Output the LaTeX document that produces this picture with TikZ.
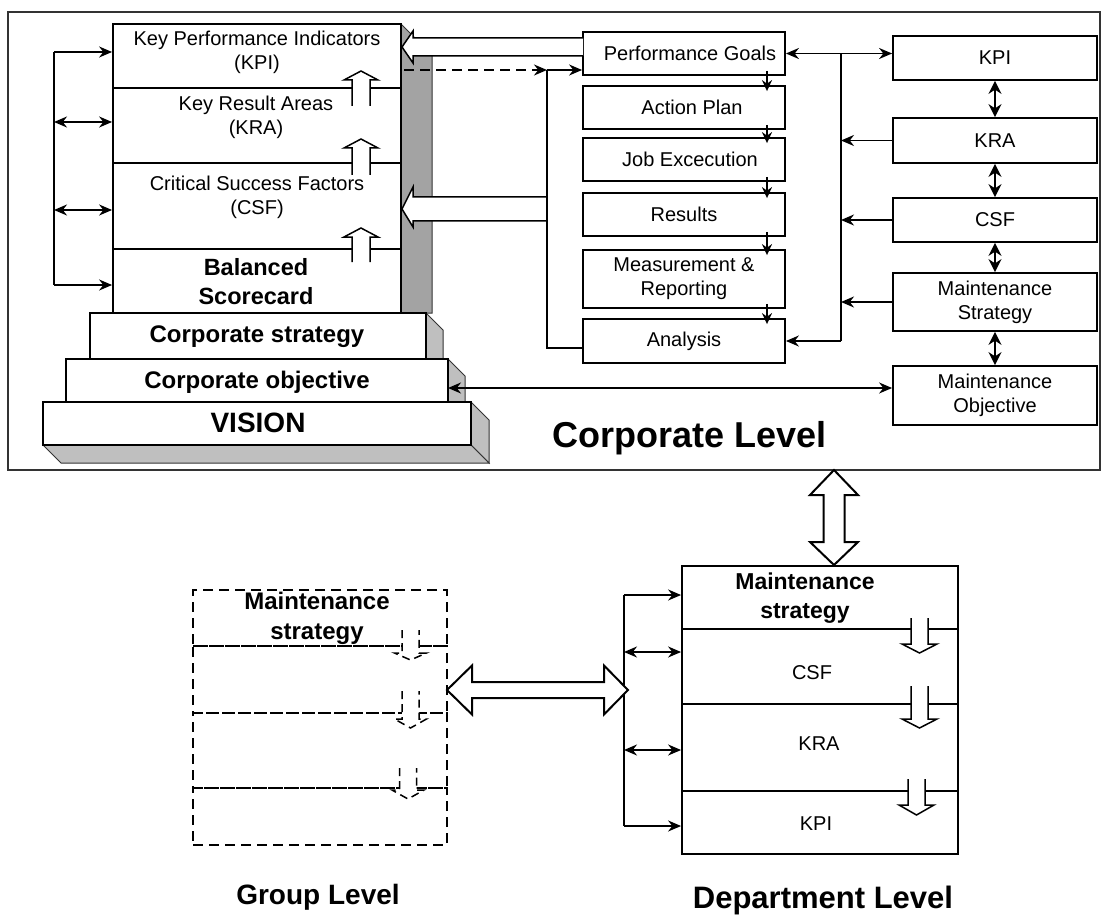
\documentclass[tikz,border=0pt]{standalone}
\usepackage{fontspec}
\setmainfont{Liberation Sans}
\usetikzlibrary{arrows.meta,calc}
\newcommand{\myHollowArrow}[7][]{% #2 xc, #3 shaft half width, #4 head half width, #5 shaft end y, #6 head base y, #7 tip y
  \filldraw[fill=white,line width=1.5pt,#1] ({#2-#3},#5) -- ({#2-#3},#6) -- ({#2-#4},#6) -- (#2,#7) -- ({#2+#4},#6) -- ({#2+#3},#6) -- ({#2+#3},#5);}
\begin{document}
\begin{tikzpicture}[x=1pt,y=-1pt,line width=1.7pt,
  box/.style={draw,line width=1.8pt,inner sep=0pt,fill=white},
  dbox/.style={draw,line width=1.8pt,inner sep=0pt,dash pattern=on 10pt off 6pt},
  txt/.style={inner sep=0pt,align=center,font=\fontsize{20}{24}\selectfont},
  btxt/.style={inner sep=0pt,align=center,font=\bfseries\fontsize{24}{30}\selectfont},
  arr/.style={-{Stealth[length=13pt,width=11pt]}},
  darr/.style={{Stealth[length=13pt,width=11pt]}-{Stealth[length=13pt,width=11pt]}},
  vdarr/.style={{Stealth[length=13pt,width=13pt]}-{Stealth[length=13pt,width=13pt]}},
  sideface/.style={fill=black!36,draw=black!80,line width=1pt},
  stairface/.style={fill=black!25,draw=black!80,line width=1pt}]
\useasboundingbox (0,0) rectangle (1104,915);

% corporate frame
\node[draw=black!80,line width=1.4pt,minimum width=1092pt,minimum height=458pt,inner sep=0pt] (frame) at (554,241) {};

% 3D faces of the pyramid
\filldraw[sideface] (401,24) -- (432,55) -- (432,313) -- (401,313) -- cycle;
\filldraw[stairface] (426,313) -- (443,330) -- (443,359) -- (426,359) -- cycle;
\filldraw[stairface] (448,359) -- (465,376) -- (465,402) -- (448,402) -- cycle;
\filldraw[stairface] (471,402) -- (489,420) -- (489,463) -- (471,445) -- cycle;
\filldraw[stairface] (43,445) -- (471,445) -- (489,463) -- (61,463) -- cycle;

% pyramid boxes
\node[box,minimum width=288pt,minimum height=64pt] (mkpi) at (257,56) {};
\node[box,minimum width=288pt,minimum height=75pt] (mkra) at (257,125.5) {};
\node[box,minimum width=288pt,minimum height=86pt] (mcsf) at (257,206) {};
\node[box,minimum width=288pt,minimum height=64pt] (mbsc) at (257,281) {};
\node[box,minimum width=336pt,minimum height=46pt] (cs) at (258,336) {};
\node[box,minimum width=382pt,minimum height=43pt] (co) at (257,380.5) {};
\node[box,minimum width=428pt,minimum height=43pt] (vi) at (257,423.5) {};

% hollow up arrows in the scorecard
\myHollowArrow{361}{9}{17}{106}{80}{71}
\myHollowArrow{361}{9}{17}{175}{148}{139}
\myHollowArrow{361}{9}{17}{262}{237}{228}

\node[txt] (mkpiT) at (257,52.5) {Key Performance Indicators\\(KPI)};
\node[txt] (mkraT) at (256,117) {Key Result Areas\\(KRA)};
\node[txt] (mcsfT) at (257,197) {Critical Success Factors\\(CSF)};
\node[btxt,font=\bfseries\fontsize{23.5}{29}\selectfont] (mbscT) at (256,282) {Balanced\\Scorecard};
\node[btxt] (csT) at (257,337) {Corporate strategy};
\node[btxt] (coT) at (257,382) {Corporate objective};
\node[btxt,font=\bfseries\fontsize{28}{32}\selectfont] (viT) at (258,423) {VISION};

% process column
\node[box,txt,minimum width=202pt,minimum height=43pt] (pg) at (684,53.5) {\hspace*{12pt}Performance Goals};
\node[box,txt,minimum width=202pt,minimum height=43pt] (ap) at (684,107.5) {\hspace*{16pt}Action Plan};
\node[box,txt,minimum width=202pt,minimum height=43pt] (je) at (684,159.5) {\hspace*{12pt}Job Excecution};
\node[box,txt,minimum width=202pt,minimum height=43pt] (rs) at (684,214.5) {Results};
\node[box,txt,minimum width=202pt,minimum height=58pt] (mr) at (684,279) {Measurement \&\\Reporting};
\node[box,txt,minimum width=202pt,minimum height=44pt] (an) at (684,341) {Analysis};

\foreach \a/\b in {pg/ap,ap/je,je/rs,rs/mr,mr/an}
  \draw[-{Stealth[length=11pt,width=10pt]}] ($(\a.south)+(83,-5)$) -- ($(\b.north)+(83,6)$);

% maintenance column
\node[box,txt,minimum width=204pt,minimum height=44pt] (rkpi) at (995,58) {KPI};
\node[box,txt,minimum width=204pt,minimum height=45pt] (rkra) at (995,140.5) {KRA};
\node[box,txt,minimum width=204pt,minimum height=44pt] (rcsf) at (995,220) {CSF};
\node[box,txt,minimum width=204pt,minimum height=58pt] (rms) at (995,302) {Maintenance\\Strategy};
\node[box,txt,minimum width=204pt,minimum height=59pt] (rmo) at (995,395.5) {Maintenance\\Objective};
\foreach \a/\b in {rkpi/rkra,rkra/rcsf,rcsf/rms,rms/rmo}
  \draw[vdarr] (\a.south) -- (\b.north);

% white arrows into the scorecard
\filldraw[fill=white,line width=1.5pt] (583,38) -- (413,38) -- (413,31) -- (402,47) -- (413,63) -- (413,56) -- (583,56);
\filldraw[fill=white,line width=1.5pt] (547,197) -- (413,197) -- (413,187) -- (402,209) -- (413,227) -- (413,221) -- (547,221);

% feedback loop to performance goals
\coordinate (mjA) at (547,70);
\coordinate (mjB) at (547,348);
\coordinate (dsh) at (404,70);
\draw[arr,dash pattern=on 10pt off 6pt] (dsh) -- (mjA);
\draw[arr] (mjA) -- (mjA -| pg.west);
\draw (mjA) -- (mjB) -- (mjB -| an.west);

% left bus of the scorecard
\coordinate (lbA) at (54,52);
\coordinate (lbB) at (54,122);
\coordinate (lbC) at (54,210);
\coordinate (lbD) at (54,285);
\draw (lbA) -- (lbD);
\draw[arr] (lbA) -- (lbA -| mkpi.west);
\draw[darr] (lbB) -- (lbB -| mkra.west);
\draw[darr] (lbC) -- (lbC -| mcsf.west);
\draw[arr] (lbD) -- (lbD -| mbsc.west);

% right bus
\coordinate (rbA) at (841,53.5);
\coordinate (rbE) at (841,341);
\draw[darr] (pg.east) -- (pg.east -| rkpi.west);
\draw (rbA) -- (rbE);
\draw[arr] (rkra.west) -- (rkra.west -| rbA);
\draw[arr] (rcsf.west) -- (rcsf.west -| rbA);
\draw[arr] (rms.west) -- (rms.west -| rbA);
\draw[arr] (rbE) -- (an.east);

% objective link
\coordinate (coM) at (448,388);
\draw[darr] (coM) -- (coM -| rmo.west);

\node[inner sep=0pt,font=\bfseries\fontsize{36}{40}\selectfont] (corpL) at (690,438) {Corporate Level};

% department level
\node[box,minimum width=276pt,minimum height=63pt] (dms) at (820,597.5) {};
\node[box,minimum width=276pt,minimum height=75pt] (dcsf) at (820,666.5) {};
\node[box,minimum width=276pt,minimum height=87pt] (dkra) at (820,747.5) {};
\node[box,minimum width=276pt,minimum height=63pt] (dkpi) at (820,822.5) {};
\myHollowArrow{919.5}{8.5}{17.5}{618}{644}{653}
\myHollowArrow{919.5}{8.5}{17.5}{686}{719}{728}
\myHollowArrow{916.5}{8.5}{17.5}{779}{805}{815}
\node[btxt,font=\bfseries\fontsize{23}{29}\selectfont] (dmsT) at (805,598) {Maintenance\\strategy};
\node[txt] (dcsfT) at (812,673) {CSF};
\node[txt] (dkraT) at (819,744) {KRA};
\node[txt] (dkpiT) at (816,824) {KPI};

\coordinate (dbA) at (624,595);
\coordinate (dbB) at (624,652);
\coordinate (dbC) at (624,750);
\coordinate (dbD) at (624,826);
\draw (dbA) -- (dbD);
\draw[arr] (dbA) -- (dbA -| dms.west);
\draw[darr] (dbB) -- (dbB -| dcsf.west);
\draw[darr] (dbC) -- (dbC -| dkra.west);
\draw[arr] (dbD) -- (dbD -| dkpi.west);

% big hollow vertical double arrow
\filldraw[fill=white,line width=2pt] (834,470) -- (858,495) -- (844.5,495) -- (844.5,542) -- (858,542) -- (834,565) -- (810,542) -- (823.5,542) -- (823.5,495) -- (810,495) -- cycle;

% group level
\node[dbox,minimum width=254pt,minimum height=56pt] (g1) at (320,618) {};
\node[dbox,minimum width=254pt,minimum height=67pt] (g2) at (320,679.5) {};
\node[dbox,minimum width=254pt,minimum height=75pt] (g3) at (320,750.5) {};
\node[dbox,minimum width=254pt,minimum height=57pt] (g4) at (320,816.5) {};
\myHollowArrow[dash pattern=on 8pt off 5pt]{410.5}{8.5}{16}{630}{653}{660}
\myHollowArrow[dash pattern=on 8pt off 5pt]{410.5}{8.5}{16}{691}{719}{728}
\myHollowArrow[dash pattern=on 8pt off 5pt]{408}{8.5}{16}{768}{790}{799}
\node[btxt] (g1T) at (317,618) {Maintenance\\strategy};

% big hollow horizontal double arrow
\filldraw[fill=white,line width=2pt] (447,690) -- (472,665.5) -- (472,682) -- (604,682) -- (604,665.5) -- (628,690) -- (604,714.5) -- (604,698) -- (472,698) -- (472,714.5) -- cycle;

\node[inner sep=0pt,font=\bfseries\fontsize{28}{32}\selectfont] (grpL) at (318,897) {Group Level};
\node[inner sep=0pt,font=\bfseries\fontsize{31}{35}\selectfont] (depL) at (823,900) {Department Level};
\end{tikzpicture}
\end{document}
